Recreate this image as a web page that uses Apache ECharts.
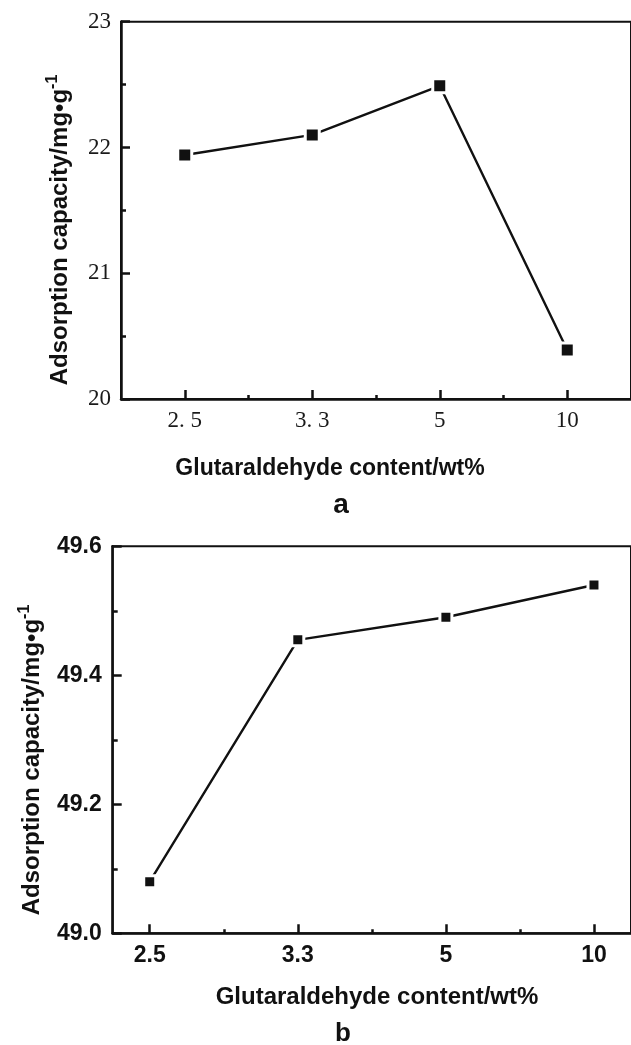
<!DOCTYPE html>
<html>
<head>
<meta charset="utf-8">
<script src="https://cdn.jsdelivr.net/npm/echarts@6/dist/echarts.min.js"></script>
<style>
  html, body { margin: 0; padding: 0; background: #fff; }
  #chart { width: 631px; height: 1045px; }
</style>
</head>
<body>
<div id="chart"></div>
<script>
// Glutaraldehyde content (wt%) categories, as labelled on each panel
const categoriesA = ['2. 5', '3. 3', '5', '10'];
const categoriesB = ['2.5', '3.3', '5', '10'];

// Adsorption capacity (mg·g⁻¹)
const capacityA = [21.94, 22.10, 22.49, 20.39];
const capacityB = [49.08, 49.455, 49.49, 49.54];

// Axis ranges / tick settings
const yRangeA = { min: 20, max: 23, interval: 1 };
const yRangeB = { min: 49.0, max: 49.6, interval: 0.2 };

const xTitle = 'Glutaraldehyde content/wt%';
const yTitle = 'Adsorption capacity/mg\u2022g';
const yTitleSup = '-1';
const panelLetters = ['a', 'b'];

const INK = '#111';
const SANS = '"Liberation Sans", Arial, sans-serif';
const SERIF = '"Liberation Serif", "Times New Roman", serif';

const catIdx = cats => cats.map((_, i) => i);
const halfIdx = cats => cats.map((_, i) => i + 0.5);

function xAxesFor(gridIndex, cats, min, max, labelFont) {
  return [
    {
      type: 'value', gridIndex, min, max, position: 'bottom',
      splitLine: { show: false },
      axisLine: { show: true, onZero: false, lineStyle: { color: INK, width: 2.5 } },
      axisTick: { show: true, inside: true, length: 9, customValues: catIdx(cats),
                  lineStyle: { color: INK, width: 2.5 } },
      axisLabel: Object.assign({ show: true, customValues: catIdx(cats),
                  formatter: v => cats[Math.round(v)] }, labelFont)
    },
    {
      type: 'value', gridIndex, min, max, position: 'bottom',
      splitLine: { show: false },
      axisLine: { show: false },
      axisTick: { show: true, inside: true, length: 4, customValues: halfIdx(cats),
                  lineStyle: { color: INK, width: 2.5 } },
      axisLabel: { show: false }
    }
  ];
}

function yAxisFor(gridIndex, range, labelFont, fmt) {
  return {
    type: 'value', gridIndex, min: range.min, max: range.max, interval: range.interval,
    splitLine: { show: false },
    axisLine: { show: true, onZero: false, lineStyle: { color: INK, width: 2.5 } },
    axisTick: { show: true, inside: true, length: 9, lineStyle: { color: INK, width: 2.5 } },
    minorTick: { show: true, splitNumber: 2, length: 5, lineStyle: { color: INK, width: 2.5 } },
    axisLabel: Object.assign({ formatter: fmt }, labelFont)
  };
}

function seriesFor(idx, values, size) {
  return {
    type: 'line', xAxisIndex: idx * 2, yAxisIndex: idx,
    data: values.map((v, i) => [i, v]),
    symbol: 'rect', symbolSize: size,
    lineStyle: { color: INK, width: 2.4 },
    itemStyle: { color: INK, borderColor: '#fff', borderWidth: 3 },
    emphasis: { disabled: true }
  };
}

function yTitleText(x, y) {
  return {
    type: 'text', x, y, rotation: Math.PI / 2,
    style: {
      text: '{m|' + yTitle + '}{s|' + yTitleSup + '}',
      align: 'center', verticalAlign: 'middle',
      rich: {
        m: { fontFamily: SANS, fontWeight: 'bold', fontSize: 24, lineHeight: 30, fill: INK },
        s: { fontFamily: SANS, fontWeight: 'bold', fontSize: 16, lineHeight: 30,
             verticalAlign: 'top', fill: INK }
      }
    }
  };
}

function plainText(x, y, text, size) {
  return {
    type: 'text', x, y,
    style: { text, align: 'center', verticalAlign: 'middle',
             fontFamily: SANS, fontWeight: 'bold', fontSize: size, fill: INK }
  };
}

const labelA = { fontFamily: SERIF, fontSize: 23, color: '#1a1a1a', margin: 10 };
const labelB = { fontFamily: SANS, fontWeight: 'bold', fontSize: 23, color: INK, margin: 11 };

const chart = echarts.init(document.getElementById('chart'), null, { renderer: 'canvas' });
chart.setOption({
  animation: false,
  backgroundColor: '#fff',
  grid: [
    { left: 121, top: 21.7, width: 511, height: 377.3, show: true,
      borderColor: INK, borderWidth: 2, backgroundColor: 'transparent' },
    { left: 112.7, top: 546.3, width: 528.5, height: 387, show: true,
      borderColor: INK, borderWidth: 2, backgroundColor: 'transparent' }
  ],
  xAxis: [
    ...xAxesFor(0, categoriesA, -0.5, 3.5, labelA),
    ...xAxesFor(1, categoriesB, -0.25, 3.25, labelB)
  ],
  yAxis: [
    yAxisFor(0, yRangeA, labelA, v => String(Math.round(v))),
    yAxisFor(1, yRangeB, labelB, v => v.toFixed(1))
  ],
  series: [
    seriesFor(0, capacityA, 14),
    seriesFor(1, capacityB, 12)
  ],
  graphic: [
    yTitleText(60, 230),
    yTitleText(32, 760),
    plainText(330, 468.5, xTitle, 23),
    plainText(377, 997, xTitle, 24),
    plainText(341, 505, panelLetters[0], 28),
    plainText(343, 1034, panelLetters[1], 26)
  ]
});
</script>
</body>
</html>
